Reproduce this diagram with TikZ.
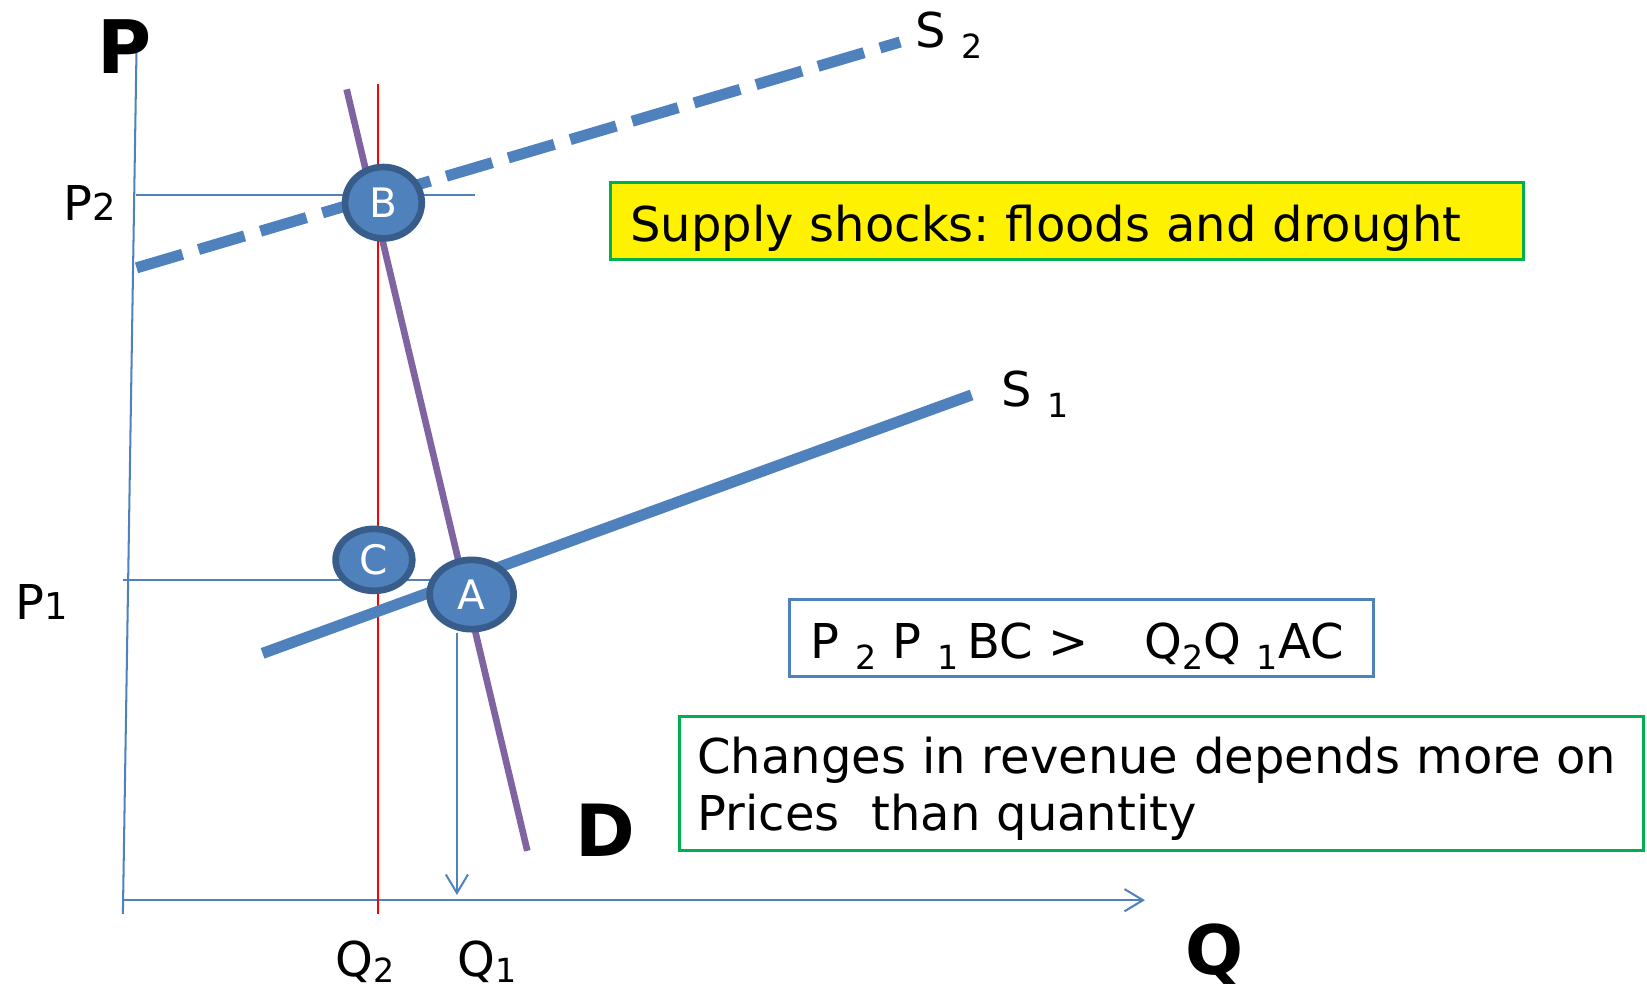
\documentclass[tikz,border=0pt]{standalone}
\usepackage{fontspec}
\setmainfont{DejaVu Sans}
\usetikzlibrary{shapes.geometric,arrows.meta}
\definecolor{lineblue}{HTML}{4F81BD}
\definecolor{ringblue}{HTML}{385D8A}
\definecolor{demandline}{HTML}{8064A2}
\definecolor{boxgreen}{HTML}{00B050}
\newcommand{\lowidx}[2][3pt]{\raisebox{-#1}{\fontsize{9}{9}\selectfont #2}}
\frenchspacing

\begin{document}
\begin{tikzpicture}[
  font=\fontsize{13}{15.3}\selectfont,
  eqpoint/.style={ellipse, fill=lineblue, draw=ringblue, line width=1.8pt,
    text=white, inner sep=0pt, font=\fontsize{11}{11}\selectfont},
  axisline/.style={lineblue, line width=0.55pt},
  opentip/.style={-{Straight Barb[length=5pt,width=6pt]}},
  bigletter/.style={font=\fontsize{20}{20}\selectfont\bfseries, inner sep=0pt, anchor=base west},
  lab/.style={inner sep=0pt, anchor=base west},
  textbox/.style={line width=0.8pt, align=left, inner ysep=0pt}
]
  \useasboundingbox (0,0) rectangle (15.68,9.43);

  % Eksenler
  \coordinate (ptop) at (1.30,8.98);
  \coordinate (pbot) at (1.17,0.73);
  \coordinate (qleft) at (1.17,0.86);
  \coordinate (qright) at (10.90,0.86);
  \draw[axisline] (pbot) -- (ptop);
  \draw[axisline, opentip] (qleft) -- (qright);

  % Fiyat çizgileri
  \coordinate (ptwoa) at (1.29,7.57);
  \coordinate (ptwob) at (4.52,7.57);
  \coordinate (ponea) at (1.17,3.91);
  \coordinate (poneb) at (4.30,3.91);
  \draw[axisline] (ptwoa) -- (ptwob);
  \draw[axisline] (ponea) -- (poneb);

  % Q2 dikey çizgi
  \coordinate (redtop) at (3.60,8.63);
  \coordinate (redbot) at (3.60,0.73);
  \draw[red, line width=0.5pt] (redtop) -- (redbot);

  % Arz ve talep eğrileri
  \coordinate (sonea) at (2.50,3.21);
  \coordinate (soneb) at (9.25,5.67);
  \coordinate (stwoa) at (1.30,6.88);
  \coordinate (stwob) at (8.57,9.03);
  \coordinate (dtop) at (3.30,8.58);
  \coordinate (dbot) at (5.02,1.33);
  \draw[lineblue, line width=3pt] (sonea) -- (soneb);
  \draw[lineblue, line width=3pt, dash pattern=on 13pt off 4.5pt] (stwoa) -- (stwob);
  \draw[demandline, line width=1.8pt] (dtop) -- (dbot);

  % Denge noktaları
  \node[eqpoint, minimum width=0.73cm, minimum height=0.68cm] (B) at (3.65,7.50) {B};
  \node[eqpoint, minimum width=0.73cm, minimum height=0.59cm] (C) at (3.56,4.10) {C};
  \node[eqpoint, minimum width=0.80cm, minimum height=0.66cm] (A) at (4.49,3.77) {A};

  \coordinate (qone) at (4.35,0.91);
  \draw[axisline, opentip] (A.south -| qone) -- (qone);

  % Etiketler
  \node[bigletter] (plab) at (0.92,8.73) {P};
  \node[bigletter, font=\fontsize{18.5}{18.5}\selectfont\bfseries] (qlab) at (11.28,0.15) {Q};
  \node[bigletter, font=\fontsize{19.5}{19.5}\selectfont\bfseries] (dlab) at (5.47,1.28) {D};
  \node[lab] (ptwolab) at (0.60,7.33) {P{\fontsize{10}{10}\selectfont 2}};
  \node[lab] (ponelab) at (0.14,3.53) {P{\fontsize{10}{10}\selectfont 1}};
  \node[lab] (stwolab) at (8.71,8.98) {S \lowidx{2}};
  \node[lab] (sonelab) at (9.53,5.56) {S \lowidx{1}};
  \node[lab] (qtwolab) at (3.19,0.13) {Q\lowidx[1.6pt]{2}};
  \node[lab] (qonelab) at (4.35,0.13) {Q\lowidx[1.6pt]{1}};

  % Kutular
  \node[textbox, draw=boxgreen, fill=yellow, minimum height=0.73cm,
    text width=8.31cm, inner xsep=0.19cm, text height=0.39cm, text depth=0cm]
    (shock) at (10.155,7.325) {Supply shocks: floods and drought};
  \node[textbox, draw=lineblue, minimum height=0.73cm,
    text width=5.16cm, inner xsep=0.2cm, text height=0.39cm, text depth=0cm]
    (compare) at (10.30,3.355)
    {P \lowidx{2} P \lowidx{1}\,BC >\hspace{15pt}Q\lowidx{2}Q \lowidx{1}AC};
  \node[textbox, draw=boxgreen, minimum height=1.28cm,
    text width=8.84cm, inner xsep=0.17cm] (revenue) at (11.06,1.97)
    {\rule{0pt}{12.7pt}Changes in revenue depends more on\\Prices\ \ than quantity};
\end{tikzpicture}
\end{document}
